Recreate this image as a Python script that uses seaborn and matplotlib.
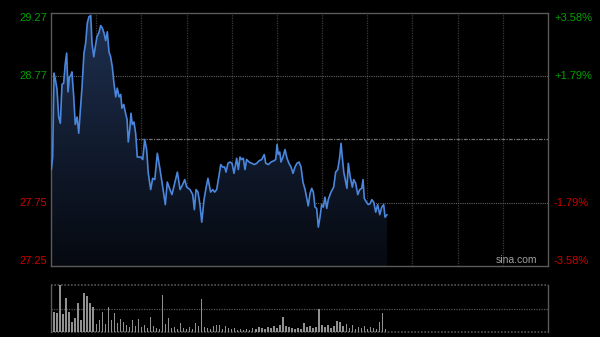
import numpy as np
import pandas as pd
import matplotlib
matplotlib.use("Agg")
import matplotlib.pyplot as plt
from matplotlib.patches import PathPatch
import seaborn as sns

# ---------------- data ----------------
prev_close = 28.26
y_low, y_high = 27.25, 29.27
left_labels = ["29.27", "28.77", "27.75", "27.25"]
left_values = [29.27, 28.77, 27.75, 27.25]
right_labels = ["+3.58%", "+1.79%", "-1.79%", "-3.58%"]

minutes = [0.2, 1.1, 2.0, 2.9, 4.0, 5.1, 6.2, 7.3, 8.4, 9.5, 10.4, 11.3, 12.2, 13.1, 13.9,
           15.1, 16.1, 17.3, 18.4, 19.5, 20.6, 21.9, 23.0, 24.1, 25.2, 26.4, 27.2, 28.4, 29.4,
           30.5, 31.7, 33.0, 34.1, 35.2, 36.3, 37.4, 38.5, 39.6, 40.7, 41.8, 43.0, 44.0, 45.2,
           46.3, 47.1, 48.3, 49.3, 50.5, 51.3, 52.3, 53.1, 54.0, 55.1, 56.2, 57.3, 59.6, 60.9,
           62.2, 63.5, 64.6, 66.2, 67.5, 68.9, 70.6, 72.4, 74.2, 75.9, 77.2, 79.0, 80.3, 82.1,
           83.9, 85.7, 87.4, 88.8, 90.1, 92.3, 94.1, 95.2, 96.3, 97.6, 98.9, 100.1, 101.6, 102.9,
           104.2, 106.0, 107.4, 108.7, 110.0, 111.4, 112.7, 114.0, 115.3, 116.2, 117.5, 118.9,
           120.2, 121.5, 123.3, 124.4, 125.5, 126.6, 127.7, 128.8, 129.9, 131.5, 133.3, 135.0,
           136.6, 138.1, 139.9, 141.6, 142.6, 144.3, 146.1, 147.9, 149.2, 150.1, 150.9, 151.9,
           152.7, 154.0, 155.4, 156.7, 158.0, 159.4, 160.7, 162.0, 163.3, 164.7, 166.0, 167.3,
           168.7, 170.0, 170.8, 172.0, 173.1, 174.2, 175.3, 176.4, 177.5, 178.6, 179.7, 180.8,
           181.9, 183.1, 184.1, 185.9, 187.7, 189.0, 190.4, 191.7, 192.6, 193.4, 194.4, 195.2,
           196.5, 197.4, 198.7, 200.1, 201.0, 202.3, 203.7, 205.0, 206.3, 207.2, 208.0, 209.4,
           210.7, 212.0, 213.0, 214.3, 215.6, 216.9, 218.3, 219.6, 220.9, 221.8, 223.1]

prices = [28.02, 28.12, 28.79, 28.74, 28.66, 28.44, 28.39, 28.70, 28.71, 28.87, 28.95, 28.64,
          28.76, 28.77, 28.80, 28.60, 28.38, 28.44, 28.31, 28.50, 28.68, 28.95, 29.03, 29.19,
          29.24, 29.25, 29.03, 28.92, 29.00, 29.08, 29.11, 29.17, 29.15, 29.11, 29.05, 29.12,
          28.96, 28.92, 28.84, 28.71, 28.60, 28.67, 28.60, 28.62, 28.51, 28.54, 28.48, 28.42,
          28.24, 28.34, 28.47, 28.38, 28.40, 28.31, 28.12, 28.12, 28.10, 28.26, 28.18, 27.99,
          27.86, 27.95, 27.94, 28.15, 28.02, 27.88, 27.74, 27.92, 27.86, 27.82, 27.91, 28.00,
          27.86, 27.90, 27.94, 27.88, 27.86, 27.82, 27.70, 27.86, 27.84, 27.74, 27.60, 27.78,
          27.87, 27.95, 27.84, 27.86, 27.84, 27.86, 27.96, 28.06, 28.04, 28.04, 28.00, 28.07,
          28.08, 28.07, 27.99, 28.11, 28.02, 28.12, 28.10, 28.11, 28.02, 28.10, 28.08, 28.07,
          28.06, 28.07, 28.09, 28.10, 28.14, 28.07, 28.06, 28.08, 28.09, 28.10, 28.22, 28.14,
          28.16, 28.08, 28.12, 28.18, 28.11, 28.07, 28.04, 27.99, 28.04, 28.07, 28.08, 28.04,
          27.92, 27.86, 27.78, 27.73, 27.83, 27.87, 27.84, 27.72, 27.71, 27.56, 27.64, 27.74,
          27.72, 27.80, 27.71, 27.78, 27.84, 27.88, 28.00, 28.02, 28.12, 28.23, 28.12, 28.00,
          27.95, 27.87, 28.07, 27.96, 27.88, 27.94, 27.91, 27.82, 27.86, 27.87, 27.94, 27.79,
          27.76, 27.74, 27.75, 27.78, 27.76, 27.68, 27.74, 27.66, 27.72, 27.74, 27.64, 27.66]

vol_minutes = list(range(0, 224, 2))
volumes = [9, 20, 19, 47, 18, 34, 20, 10, 14, 29, 12, 39, 36, 29, 25, 8, 12, 20, 8, 25,
           12, 19, 9, 13, 10, 7, 5, 12, 6, 13, 5, 7, 4, 15, 6, 4, 3, 37, 8, 14,
           4, 5, 3, 9, 4, 3, 5, 3, 9, 6, 33, 5, 4, 3, 6, 7, 7, 3, 6, 4,
           3, 4, 2, 3, 2, 3, 2, 4, 3, 5, 4, 3, 5, 4, 6, 4, 7, 15, 6, 5,
           4, 3, 4, 3, 9, 5, 6, 4, 5, 23, 7, 5, 7, 4, 6, 11, 10, 6, 8, 4,
           7, 3, 5, 4, 6, 3, 5, 4, 3, 10, 19, 3]
volumes = volumes[:len(vol_minutes)]

total_minutes = 330
grid_minutes = list(range(30, 330, 30))

# ---------------- style ----------------
sns.set_theme(style="dark")
plt.rcParams["font.family"] = ["Liberation Sans", "DejaVu Sans"]
BG = "#000000"
GRID = "#3a3a3a"
BORDER = "#5a5a5a"
LINE = "#4a86dc"
GREEN = "#00a000"
RED = "#cc0000"

fig = plt.figure(figsize=(6.0, 3.37), dpi=100, facecolor=BG)
ax = fig.add_axes([51 / 600, 1 - 266 / 337, 497 / 600, 253 / 337])
axv = fig.add_axes([51 / 600, 1 - 332 / 337, 497 / 600, 47 / 337])

for a in (ax, axv):
    a.set_facecolor(BG)
    a.set_xlim(0, total_minutes)
    a.set_xticks([])
    a.set_yticks([])
    a.set_xlabel("")
    a.set_ylabel("")
    a.grid(False)

ax.set_ylim(y_low, y_high)

# gradient area under the price line
poly = ax.fill_between(minutes, prices, y_low, facecolor="none", edgecolor="none")
path = poly.get_paths()[0]
patch = PathPatch(path, transform=ax.transData, facecolor="none", edgecolor="none")
ax.add_patch(patch)
top_c = np.array([30, 48, 80]) / 255.0
bot_c = np.array([6, 9, 16]) / 255.0
t = np.linspace(0, 1, 256)[:, None]
grad = (top_c[None, :] * (1 - t) + bot_c[None, :] * t)[:, None, :]
im = ax.imshow(grad, extent=[0, total_minutes, y_low, y_high], aspect="auto",
               origin="upper", zorder=1)
im.set_clip_path(patch)

# grid lines
for m in grid_minutes:
    ax.axvline(m, color=GRID, lw=0.9, ls=(0, (1, 1)), zorder=0.5)
for v in (28.77, 27.75):
    ax.axhline(v, color="#606060", lw=0.8, ls=(0, (1, 1)), zorder=0.5)
ax.axhline(prev_close, color="#707070", lw=0.9, ls=(0, (3, 1, 1, 1)), zorder=0.5)

# price line
df = pd.DataFrame({"minute": minutes, "price": prices})
sns.lineplot(data=df, x="minute", y="price", ax=ax, color=LINE, linewidth=1.2,
             estimator=None, sort=False, zorder=3)
ax.set_xlim(0, total_minutes)
ax.set_ylim(y_low, y_high)
ax.set_xlabel("")
ax.set_ylabel("")
ax.set_xticks([])
ax.set_yticks([])

for s in ax.spines.values():
    s.set_visible(True)
    s.set_color(BORDER)
    s.set_linewidth(1.0)

# left / right labels
for lab, val, rl in zip(left_labels, left_values, right_labels):
    col = GREEN if val > prev_close else RED
    va = "center"
    if val == y_high:
        va = "top"
    elif val == y_low:
        va = "bottom"
    ax.text(-0.008, val, lab, transform=ax.get_yaxis_transform(), ha="right", va=va,
            color=col, fontsize=8)
    ax.text(1.012, val, rl, transform=ax.get_yaxis_transform(), ha="left", va=va,
            color=col, fontsize=8)

ax.text(0.978, y_low + 0.01, "sina.com", transform=ax.get_yaxis_transform(), ha="right",
        va="bottom", color="#a0a0a0", fontsize=7.5)

# volume panel
vdf = pd.DataFrame({"minute": vol_minutes, "volume": volumes})
sns.barplot(data=vdf, x="minute", y="volume", ax=axv, native_scale=True,
            color="#909090", width=0.45, saturation=1, edgecolor="none", zorder=2)
axv.set_xlim(0, total_minutes)
axv.set_ylim(0, 47)
axv.set_xlabel("")
axv.set_ylabel("")
axv.set_xticks([])
axv.set_yticks([])
axv.axhline(23.5, color="#555555", lw=0.9, ls=(0, (1, 1)), zorder=1)
axv.spines["top"].set_visible(False)
axv.spines["bottom"].set_visible(False)
axv.axhline(47, color="#555555", lw=1.2, ls=(0, (1, 1)), zorder=1, clip_on=False)
axv.axhline(0, color="#555555", lw=1.2, ls=(0, (1, 1)), zorder=1, clip_on=False)
for k in ("left", "right"):
    axv.spines[k].set_visible(True)
    axv.spines[k].set_color(BORDER)
    axv.spines[k].set_linewidth(1.0)

fig.savefig("out.png", dpi=100, facecolor=BG)
